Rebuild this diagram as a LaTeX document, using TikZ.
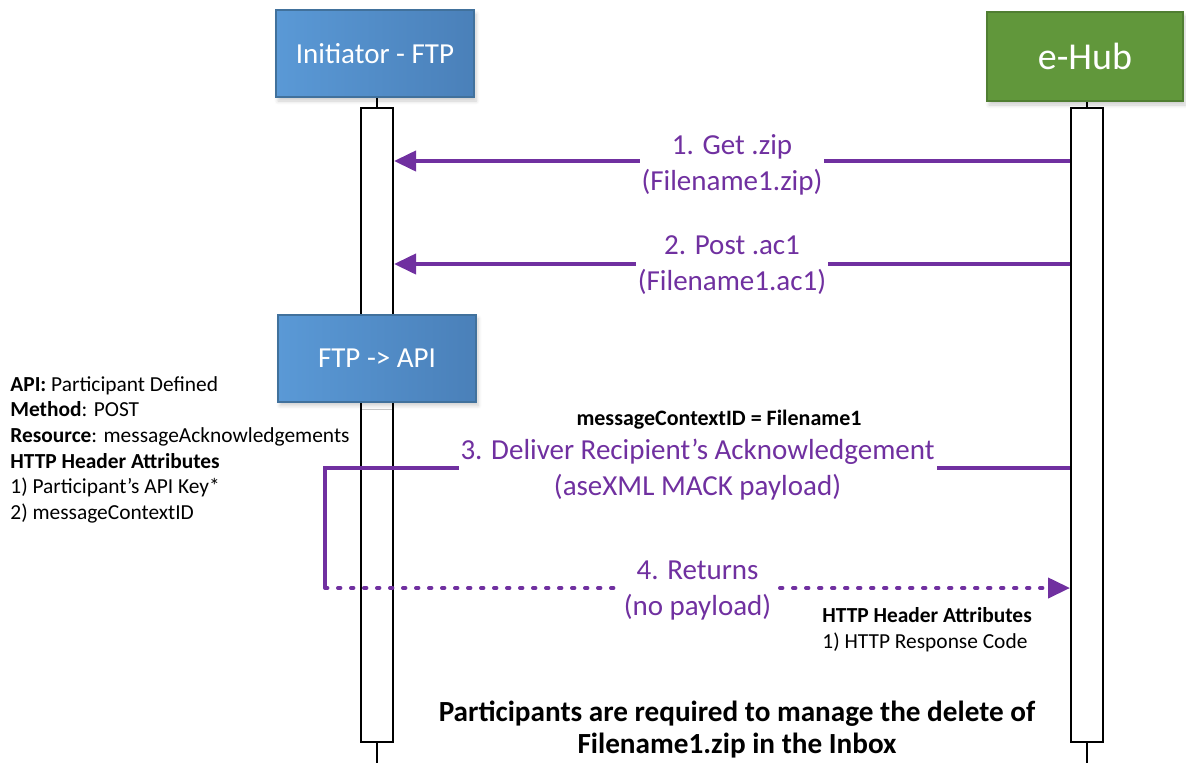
\documentclass[tikz,border=0pt]{standalone}
\usepackage{fontspec}
\setmainfont{Carlito}
\usetikzlibrary{calc,arrows.meta,shadows.blur}
\definecolor{ftpblue}{HTML}{4A80B9}
\definecolor{ftpblueL}{HTML}{5A99D6}
\definecolor{ftpedge}{HTML}{41719C}
\definecolor{hubgreen}{HTML}{61973B}
\definecolor{hubedge}{HTML}{507E32}
\definecolor{msgpurple}{HTML}{7030A0}
\tikzset{
  partbox/.style={draw=ftpedge, line width=1pt, left color=ftpblueL, right color=ftpblue,
    text=white, minimum width=99pt, minimum height=43.5pt, font=\fontsize{14.5}{17}\selectfont,
    blur shadow={shadow xshift=1pt, shadow yshift=-2pt, shadow blur steps=6, shadow opacity=20}},
  hubbox/.style={partbox, draw=hubedge, left color=hubgreen, right color=hubgreen,
    minimum width=98pt, minimum height=44.5pt, font=\fontsize{19}{22}\selectfont},
  actbar/.style={draw, line width=1pt, fill=white, minimum width=16pt, minimum height=317pt, inner sep=0pt},
  msg/.style={draw=msgpurple, line width=2pt, -{Triangle[length=11pt,width=10pt]}},
  msgreturn/.style={msg, line cap=round, dash pattern=on 1.2pt off 5.3pt},
  msglabel/.style={fill=white, text=msgpurple, align=center, font=\fontsize{14.5}{18}\selectfont, inner sep=1pt},
  note/.style={align=left, font=\fontsize{10.7}{12.8}\selectfont, inner sep=0pt},
}
\begin{document}
\begin{tikzpicture}[x=0.5pt, y=-0.5pt]
\useasboundingbox (0,0) rectangle (1186,762);
% participants
\node[partbox] (init) at (375,53.5) {Initiator - FTP};
\node[hubbox] (hub) at (1085,56.5) {e-Hub};
% lifelines
\node[actbar] (initbar) at (377,425) {};
\node[actbar] (hubbar) at (1087,425) {};
\draw[line width=1pt] (initbar.north) -- (initbar.north |- init.south);
\draw[line width=1pt] (initbar.south) -- ++(0,22);
\draw[line width=1pt] (hubbar.north) -- (hubbar.north |- hub.south);
\draw[line width=1pt] (hubbar.south) -- ++(0,22);
\node[partbox] (conv) at (377,358) {FTP -> API};
% messages
\coordinate (m1) at (0,161);
\coordinate (m2) at (0,264);
\coordinate (m3) at (0,468);
\coordinate (m4) at (0,588);
\coordinate (turn) at (325,468);
\draw[msg] (hubbar.west |- m1) -- node[msglabel, yshift=-2pt] {1. Get .zip\\(Filename1.zip)} (initbar.east |- m1);
\draw[msg] (hubbar.west |- m2) -- node[msglabel, yshift=-0.5pt] {2. Post .ac1\\(Filename1.ac1)} (initbar.east |- m2);
\draw[msg, -] (hubbar.west |- m3) -- node[msglabel, yshift=-1pt] {3. Deliver Recipient’s Acknowledgement\\(aseXML MACK payload)} (turn) -- (turn |- m4);
\draw[msgreturn] (turn |- m4) -- node[msglabel, yshift=-1.5pt] {4. Returns\\(no payload)} (hubbar.west |- m4);
% notes
\node[note, anchor=north west] (apinote) at (10,376) {\textbf{API:} Participant Defined\\
  \textbf{Method}: POST\\
  \textbf{Resource}: messageAcknowledgements\\
  \textbf{HTTP Header Attributes}\\
  1) Participant’s API Key*\\
  2) messageContextID};
\node[note, font=\fontsize{11}{12.8}\selectfont\bfseries] (ctxid) at (719,420) {messageContextID = Filename1};
\node[note, anchor=north west] (respnote) at (822,607) {\textbf{HTTP Header Attributes}\\
  1) HTTP Response Code};
\node[align=center, font=\fontsize{14.6}{16}\selectfont\bfseries] (deletenote) at (737,730) {Participants are required to manage the delete of\\
  Filename1.zip in the Inbox};
\end{tikzpicture}
\end{document}
